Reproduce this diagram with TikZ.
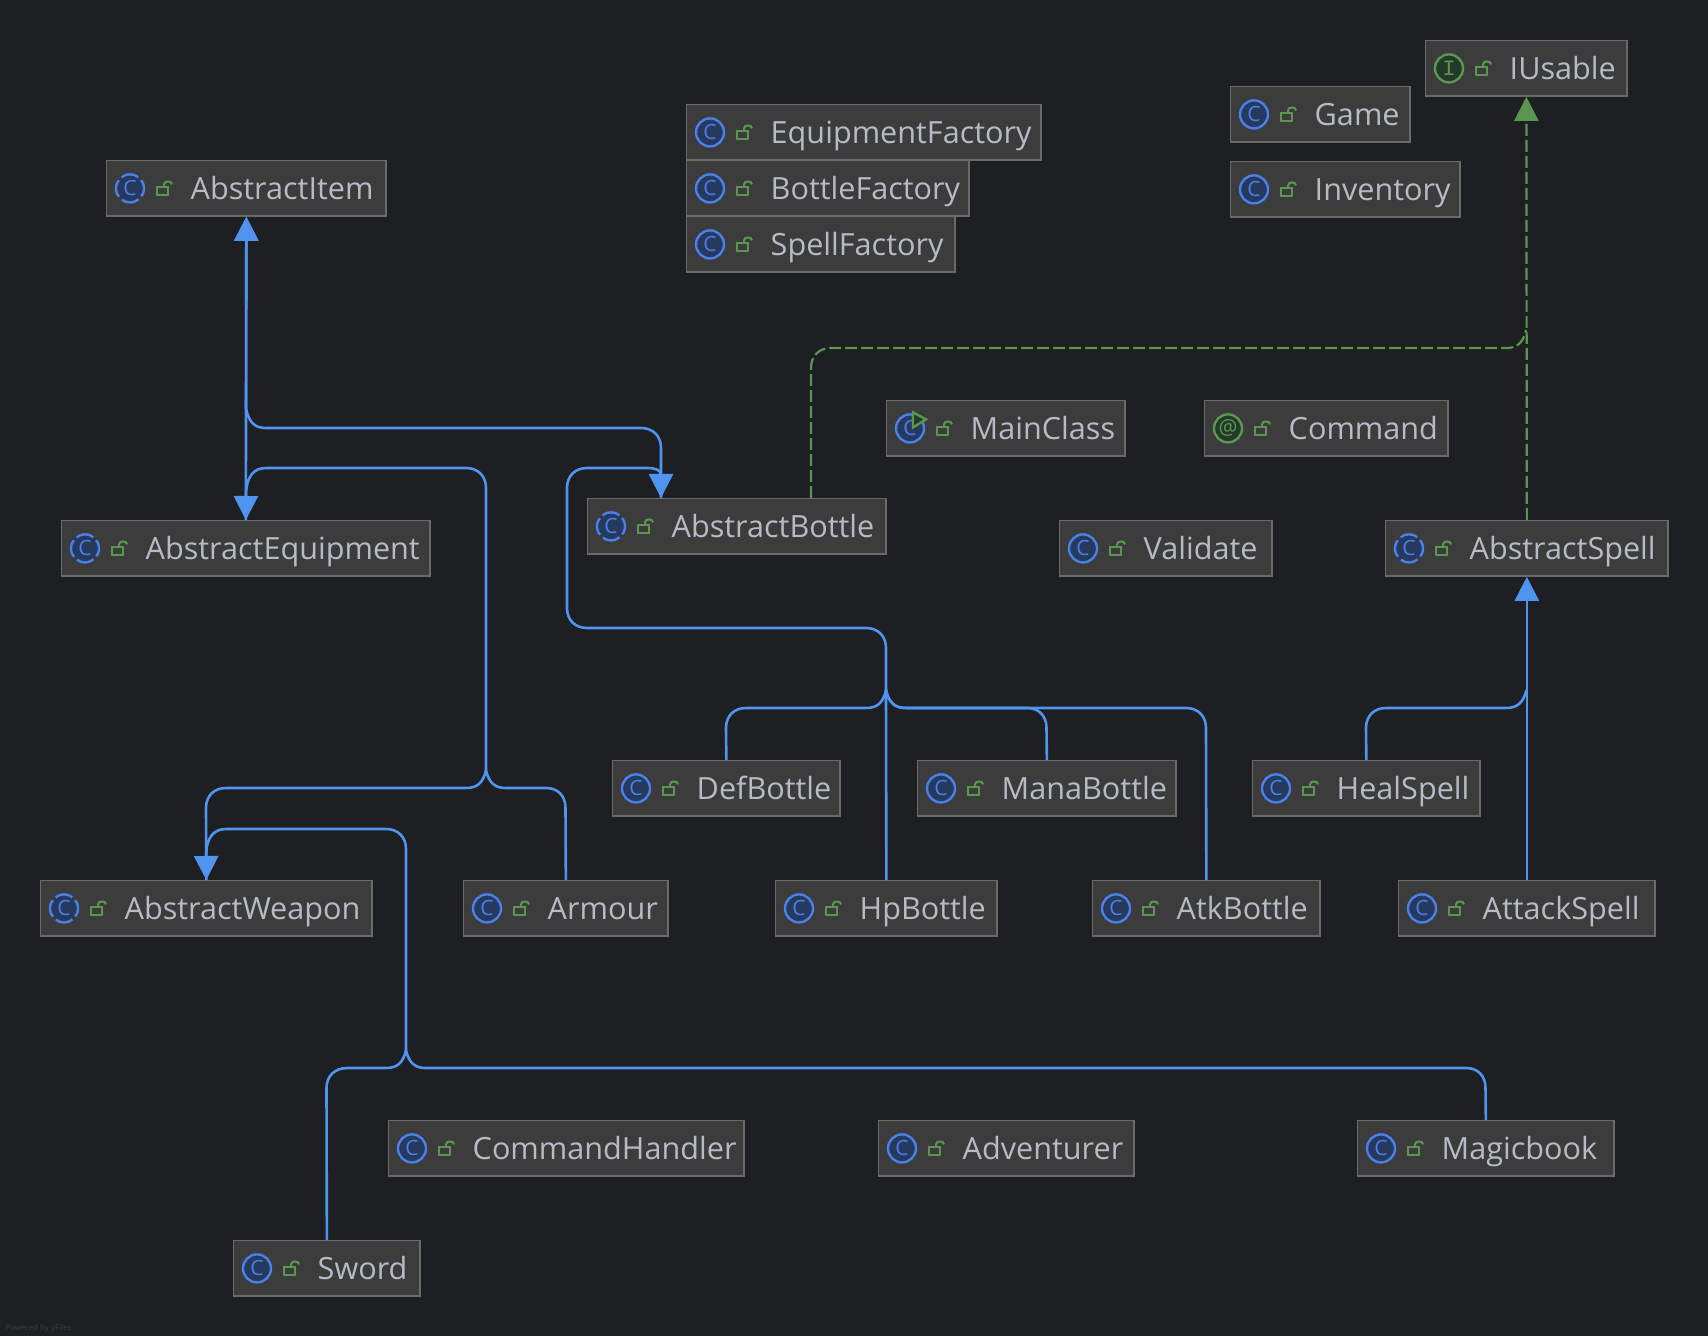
\documentclass[tikz,border=0pt]{standalone}
\usepackage{fontspec}
\setmainfont{Open Sans}
\newfontfamily\iconfont{Liberation Mono}
\usetikzlibrary{arrows.meta, calc}
\definecolor{cbg}{HTML}{1E1F22}
\definecolor{cbox}{HTML}{3C3C3C}
\definecolor{cedge}{HTML}{6A6A68}
\definecolor{ctext}{HTML}{B6BBC6}
\definecolor{cblue}{HTML}{4F94EE}
\definecolor{cicon}{HTML}{4A80E8}
\definecolor{ciconbg}{HTML}{26395F}
\definecolor{cgreen}{HTML}{5A9650}
\definecolor{cgreenbg}{HTML}{233A28}
\tikzset{
  x=0.5pt, y=-0.5pt,
  clsbox/.style={draw=cedge, fill=cbox, line width=0.7pt, anchor=north west, inner xsep=6.5pt, inner ysep=0pt,
    minimum height=27.7pt, text height=12.5pt, text depth=1.5pt, align=left, text=ctext, font=\fontsize{15.3}{18}\selectfont},
  lockicon/.style={draw=cgreen, line width=1pt},
  ring/.style={draw=cicon, fill=ciconbg, line width=1.2pt},
  greenring/.style={draw=cgreen, fill=cgreenbg, line width=1.2pt},
  letter/.style={inner sep=0pt, font=\fontsize{10.5}{11}\selectfont},
  ext/.style={draw=cblue, line width=1.3pt},
  exttip/.style={ext, -{Triangle[length=12pt, width=12pt]}},
  impl/.style={draw=cgreen, line width=1.1pt, dash pattern=on 6pt off 2pt},
  impltip/.style={impl, -{Triangle[length=12pt, width=12pt]}},
}
% name, left, top, right, icon, text
\newcommand{\cls}[6]{
  \pgfmathsetmacro{\boxw}{(#4-#2)*0.5-0.35}
  \pgfmathsetmacro{\textw}{\boxw-13}
  \node[clsbox, minimum width=\boxw pt, text width=\textw pt] (#1) at (#2,#3) {\mbox{\hspace*{35.5pt}#6}};
  \begin{scope}[shift={(#1.west)}]
    #5{#1}
    \draw[lockicon] (51,-1) rectangle (62,7);
    \draw[lockicon] (58,-1) -- (58,-4) .. controls (58,-8) and (66,-8) .. (66,-4);
  \end{scope}
}
\newcommand{\iconplain}[1]{
  \draw[ring] (24,0) circle (7pt);
  \node[letter, text=cicon] (#1c) at (24,0) {C};
}
\newcommand{\iconabs}[1]{
  \fill[ciconbg] (24,0) circle (7pt);
  \draw[ring, fill=none, dash pattern=on 9pt off 2pt, dash phase=4.5pt] (24,0) circle (7pt);
  \node[letter, text=cicon] (#1c) at (24,0) {C};
}
\newcommand{\iconmain}[1]{
  \draw[ring] (24,0) circle (7pt);
  \node[letter, text=cicon] (#1c) at (24,0) {C};
  \draw[greenring] (27,-16) -- (40,-9) -- (27,-1) -- cycle;
}
\newcommand{\iconint}[1]{
  \draw[greenring] (24,0) circle (7pt);
  \node[letter, text=cgreen, font=\iconfont\fontsize{11}{11}\selectfont] (#1c) at (24,0) {I};
}
\newcommand{\iconann}[1]{
  \draw[greenring] (24,0) circle (7pt);
  \node[letter, text=cgreen] (#1c) at (24,0) {@};
}
\begin{document}
\begin{tikzpicture}
  \fill[cbg] (0,0) rectangle (1708,1336);
  \useasboundingbox (0,0) rectangle (1708,1336);
  % top row
  \cls{item}{106}{160}{386}{\iconabs}{AbstractItem}
  \cls{equipfac}{686}{104}{1041}{\iconplain}{EquipmentFactory}
  \cls{bottlefac}{686}{160}{969}{\iconplain}{BottleFactory}
  \cls{spellfac}{686}{216}{955}{\iconplain}{SpellFactory}
  \cls{game}{1230}{86}{1410}{\iconplain}{Game}
  \cls{inventory}{1230}{161}{1460}{\iconplain}{Inventory}
  \cls{usable}{1425}{40}{1627}{\iconint}{IUsable}
  % middle rows
  \cls{mainclass}{886}{400}{1125}{\iconmain}{MainClass}
  \cls{command}{1204}{400}{1448}{\iconann}{Command}
  \cls{equip}{61}{520}{430}{\iconabs}{AbstractEquipment}
  \cls{bottle}{587}{498}{886}{\iconabs}{AbstractBottle}
  \cls{validate}{1059}{520}{1272}{\iconplain}{Validate}
  \cls{spell}{1385}{520}{1668}{\iconabs}{AbstractSpell}
  \cls{defb}{612}{760}{840}{\iconplain}{DefBottle}
  \cls{manab}{917}{760}{1176}{\iconplain}{ManaBottle}
  \cls{heal}{1252}{760}{1480}{\iconplain}{HealSpell}
  \cls{weapon}{40}{880}{372}{\iconabs}{AbstractWeapon}
  \cls{armour}{463}{880}{668}{\iconplain}{Armour}
  \cls{hpb}{775}{880}{997}{\iconplain}{HpBottle}
  \cls{atkb}{1092}{880}{1320}{\iconplain}{AtkBottle}
  \cls{attack}{1398}{880}{1655}{\iconplain}{AttackSpell}
  % bottom rows
  \cls{handler}{388}{1120}{744}{\iconplain}{CommandHandler}
  \cls{adventurer}{878}{1120}{1134}{\iconplain}{Adventurer}
  \cls{magic}{1357}{1120}{1614}{\iconplain}{Magicbook}
  \cls{sword}{233}{1240}{420}{\iconplain}{Sword}
  \node[inner sep=0pt, anchor=west, text=cbox, font=\fontsize{4}{4}\selectfont] (powered) at (5,1328) {Powered by yFiles};
  % forks
  \coordinate (bottlein) at (661,498);
  \coordinate (bottleimpl) at (811,498);
  \coordinate (bottlefork) at (886,690);
  \coordinate (spellfork) at (1526.5,690);
  \coordinate (equipfork) at (486,770);
  \coordinate (weaponfork) at (406,1050);
  \coordinate (implfork) at (1526,330);
  % implements
  \draw[impl] (bottleimpl) -- (811,368) .. controls (811,356) and (819,348) .. (831,348) -- (1506,348) .. controls (1516,348) and (1523,344) .. (implfork);
  \draw[impltip] (spell.north) -- (usable.south);
  % item
  \draw[exttip] (equip.north) -- (item.south);
  \draw[exttip] (bottlein) -- (661,448) .. controls (661,436) and (653,428) .. (641,428) -- (266,428) .. controls (256,428) and (249,424) .. (246,408) -- (item.south);
  % equipment
  \draw[ext] (weapon.north) -- (206,808) .. controls (206,796) and (214,788) .. (226,788) -- (466,788) .. controls (476,788) and (483,784) .. (equipfork);
  \draw[ext] (armour.north) -- (565.5,808) .. controls (565.5,796) and (558,788) .. (546,788) -- (506,788) .. controls (496,788) and (489,784) .. (equipfork);
  \draw[exttip] (equipfork) -- (486,488) .. controls (486,476) and (478,468) .. (466,468) -- (266,468) .. controls (254,468) and (246,476) .. (equip.north);
  % weapon
  \draw[ext] (sword.north) -- (326.5,1088) .. controls (326.5,1076) and (335,1068) .. (347,1068) -- (386,1068) .. controls (396,1068) and (403,1064) .. (weaponfork);
  \draw[ext] (magic.north) -- (1485.5,1088) .. controls (1485.5,1076) and (1478,1068) .. (1466,1068) -- (426,1068) .. controls (416,1068) and (409,1064) .. (weaponfork);
  \draw[exttip] (weaponfork) -- (406,849) .. controls (406,837) and (398,829) .. (386,829) -- (226,829) .. controls (214,829) and (206,837) .. (weapon.north);
  % bottle
  \draw[ext] (defb.north) -- (726,728) .. controls (726,716) and (734,708) .. (746,708) -- (866,708) .. controls (876,708) and (883,704) .. (bottlefork);
  \draw[ext] (manab.north) -- (1046.5,728) .. controls (1046.5,716) and (1039,708) .. (1027,708) -- (906,708) .. controls (896,708) and (889,704) .. (bottlefork);
  \draw[ext] (atkb.north) -- (1206,728) .. controls (1206,716) and (1198,708) .. (1186,708) -- (906,708) .. controls (896,708) and (889,704) .. (bottlefork);
  \draw[ext] (hpb.north) -- (bottlefork);
  \draw[exttip] (bottlefork) -- (886,648) .. controls (886,636) and (878,628) .. (866,628) -- (587,628) .. controls (575,628) and (567,620) .. (567,608) -- (567,488) .. controls (567,476) and (575,468) .. (587,468) -- (647,468) .. controls (655,468) and (661,470) .. (bottlein);
  % spell
  \draw[ext] (heal.north) -- (1366,728) .. controls (1366,716) and (1374,708) .. (1386,708) -- (1506,708) .. controls (1516,708) and (1523,704) .. (spellfork);
  \draw[exttip] (attack.north) -- (spell.south);
\end{tikzpicture}
\end{document}
